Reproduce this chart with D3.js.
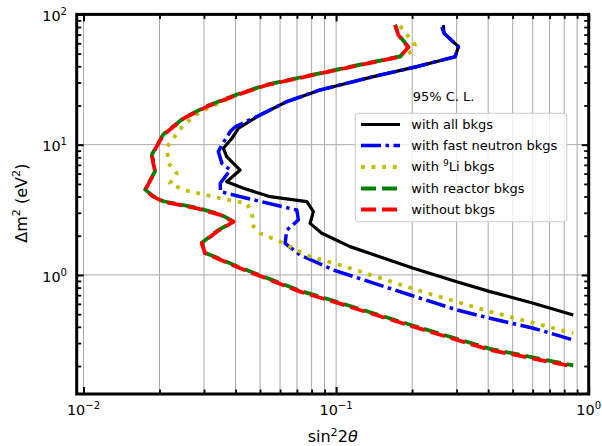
<!DOCTYPE html>
<html>
<head>
<meta charset="utf-8">
<script src="https://cdn.jsdelivr.net/npm/d3@7"></script>
<style>
  html, body { margin: 0; padding: 0; background: #fff; }
  svg { display: block; font-family: "DejaVu Sans", sans-serif; }
</style>
</head>
<body>
<svg id="chart" width="602" height="446"></svg>
<script>
// ---------------- data (sin^2 2theta, Δm^2 in eV^2) ----------------
const allSin2 = [0.2658, 0.2675, 0.305, 0.296, 0.2087, 0.1405, 0.0864, 0.0638, 0.0500, 0.0411, 0.0387, 0.0358, 0.0369, 0.0417, 0.0369, 0.0430, 0.0548, 0.0766, 0.0813, 0.0789, 0.0878, 0.1136, 0.2022, 0.3004, 0.4069, 0.6037, 0.869];
const allDm2  = [82.9, 71.6, 56.5, 47.3, 39.7, 33.3, 26.3, 21.4, 16.9, 13.4, 11.2, 9.38, 8.09, 6.39, 5.20, 4.63, 3.99, 3.65, 3.06, 2.49, 2.09, 1.65, 1.126, 0.888, 0.745, 0.607, 0.493];

const fastSin2 = [0.262, 0.2675, 0.305, 0.296, 0.2087, 0.1405, 0.0864, 0.0638, 0.0500, 0.0398, 0.0381, 0.0353, 0.0342, 0.0353, 0.0381, 0.0348, 0.0348, 0.0443, 0.0699, 0.0709, 0.0638, 0.0628, 0.0720, 0.0976, 0.1963, 0.3004, 0.4069, 0.6037, 0.869];
const fastDm2  = [80.0, 71.6, 56.5, 47.3, 39.7, 33.3, 26.3, 21.4, 16.9, 13.7, 12.6, 9.95, 8.84, 7.20, 6.39, 5.06, 4.36, 3.88, 3.15, 2.64, 2.21, 1.75, 1.424, 1.092, 0.702, 0.539, 0.465, 0.390, 0.317];

const liSin2 = [0.1792, 0.2054, 0.1993, 0.1792, 0.1245, 0.0813, 0.0532, 0.0405, 0.0290, 0.0249, 0.0214, 0.0217, 0.0234, 0.0220, 0.0249, 0.0348, 0.0443, 0.0464, 0.0471, 0.0500, 0.0600, 0.0789, 0.1037, 0.2087, 0.4069, 0.869];
const liDm2  = [81.5, 58.2, 51.7, 47.3, 40.9, 34.3, 28.7, 24.1, 17.9, 14.2, 9.65, 7.20, 6.03, 5.06, 4.49, 3.88, 3.55, 2.98, 2.35, 2.09, 1.80, 1.382, 1.193, 0.767, 0.523, 0.357];

const reactorSin2 = [0.1712, 0.1764, 0.1932, 0.1792, 0.1245, 0.0813, 0.0532, 0.0405, 0.0308, 0.0249, 0.0207, 0.01865, 0.0189, 0.0192, 0.01754, 0.0189, 0.0207, 0.0281, 0.0348, 0.0392, 0.0337, 0.0294, 0.0303, 0.0337, 0.0417, 0.0720, 0.0976, 0.2022, 0.4069, 0.869];
const reactorDm2  = [83.5, 70.0, 56.3, 47.6, 41.2, 34.5, 28.9, 24.3, 19.8, 16.0, 12.0, 8.40, 7.25, 6.25, 4.52, 4.02, 3.68, 3.28, 2.92, 2.58, 2.17, 1.77, 1.48, 1.36, 1.14, 0.756, 0.634, 0.408, 0.271, 0.202];

const noBkgSin2 = [0.1712, 0.1764, 0.1932, 0.1792, 0.1245, 0.0813, 0.0532, 0.0405, 0.0308, 0.0249, 0.0207, 0.01865, 0.0189, 0.0192, 0.01754, 0.0189, 0.0207, 0.0281, 0.0348, 0.0392, 0.0337, 0.0294, 0.0303, 0.0337, 0.0417, 0.0720, 0.0976, 0.2022, 0.4069, 0.869];
const noBkgDm2  = [82.9, 69.5, 55.9, 47.3, 40.9, 34.3, 28.7, 24.1, 19.6, 15.9, 11.9, 8.34, 7.20, 6.21, 4.49, 3.99, 3.65, 3.25, 2.89, 2.56, 2.15, 1.75, 1.467, 1.344, 1.126, 0.745, 0.624, 0.401, 0.266, 0.198];

const legendLabels = ["with all bkgs", "with fast neutron bkgs", ["with ", "9", "Li bkgs"], "with reactor bkgs", "without bkgs"];

const xMajorTicks = [0.01, 0.1, 1];
const xMinorTicks = [0.02, 0.03, 0.04, 0.05, 0.06, 0.07, 0.08, 0.09, 0.2, 0.3, 0.4, 0.5, 0.6, 0.7, 0.8, 0.9];
const xTickExps = ["\u22122", "\u22121", "0"];
const yMajorTicks = [1, 10, 100];
const yMinorTicks = [0.2, 0.3, 0.4, 0.5, 0.6, 0.7, 0.8, 0.9, 2, 3, 4, 5, 6, 7, 8, 9, 20, 30, 40, 50, 60, 70, 80, 90];
const yTickExps = ["0", "1", "2"];

const xDomain = [0.0094, 1.0];
const yDomain = [0.122, 100];

// ---------------- layout ----------------
const svg = d3.select("#chart");
const L = 76.7, R = 588.7, T = 14.4, B = 394;

const x = d3.scaleLog().domain(xDomain).range([L, R]);
const y = d3.scaleLog().domain(yDomain).range([B, T]);

svg.append("rect").attr("width", 602).attr("height", 446).attr("fill", "#fff");

svg.append("clipPath").attr("id", "clip")
  .append("rect").attr("x", L).attr("y", T).attr("width", R - L).attr("height", B - T);

// grid
const grid = svg.append("g").attr("clip-path", "url(#clip)");
grid.selectAll("line.gx").data(xMajorTicks.concat(xMinorTicks)).join("line")
  .attr("x1", d => x(d)).attr("x2", d => x(d)).attr("y1", T).attr("y2", B)
  .attr("stroke", "#a8a8a8").attr("stroke-width", 1);
grid.selectAll("line.gy").data(yMajorTicks).join("line")
  .attr("y1", d => y(d)).attr("y2", d => y(d)).attr("x1", L).attr("x2", R)
  .attr("stroke", "#a8a8a8").attr("stroke-width", 1);

// series
const series = [
  {sx: allSin2, sy: allDm2, color: "#000000", w: 3.2, dash: null, off: 0},
  {sx: fastSin2, sy: fastDm2, color: "#0000ff", w: 3.5, dash: "20,4.5,3.5,4.5", off: 0},
  {sx: liSin2, sy: liDm2, color: "#bfbf00", w: 3.8, dash: "3.8,6.8", off: 0},
  {sx: reactorSin2, sy: reactorDm2, color: "#008000", w: 3.8, dash: "15,6", off: 7},
  {sx: noBkgSin2, sy: noBkgDm2, color: "#ff0000", w: 3.8, dash: "15,6", off: 0}
];

const line = d3.line().x(d => x(d[0])).y(d => y(d[1]));
const plot = svg.append("g").attr("clip-path", "url(#clip)");
series.forEach(s => {
  const pts = s.sx.map((v, i) => [v, s.sy[i]]);
  plot.append("path").datum(pts)
    .attr("d", line)
    .attr("fill", "none")
    .attr("stroke", s.color)
    .attr("stroke-width", s.w)
    .attr("stroke-linejoin", "round")
    .attr("stroke-dasharray", s.dash)
    .attr("stroke-dashoffset", s.off);
});

// ticks (inward, all four sides)
function ticks(axisFn, scale, values, size, width, transform) {
  const g = svg.append("g").attr("transform", transform)
    .call(axisFn(scale).tickValues(values).tickSize(-size).tickFormat(""));
  g.select(".domain").remove();
  g.selectAll(".tick line").attr("stroke", "#000").attr("stroke-width", width);
}
ticks(d3.axisBottom, x, xMajorTicks, 7, 2, `translate(0,${B})`);
ticks(d3.axisBottom, x, xMinorTicks, 4.5, 1.8, `translate(0,${B})`);
ticks(d3.axisTop, x, xMajorTicks, 7, 2, `translate(0,${T})`);
ticks(d3.axisTop, x, xMinorTicks, 4.5, 1.8, `translate(0,${T})`);
ticks(d3.axisLeft, y, yMajorTicks, 7, 2, `translate(${L},0)`);
ticks(d3.axisLeft, y, yMinorTicks, 4.5, 1.8, `translate(${L},0)`);
ticks(d3.axisRight, y, yMajorTicks, 7, 2, `translate(${R},0)`);
ticks(d3.axisRight, y, yMinorTicks, 4.5, 1.8, `translate(${R},0)`);

// spines
svg.append("rect").attr("x", L).attr("y", T).attr("width", R - L).attr("height", B - T)
  .attr("fill", "none").attr("stroke", "#000").attr("stroke-width", 3);

// tick labels
xMajorTicks.forEach((v, i) => {
  const t = svg.append("text").attr("x", x(v)).attr("y", 415)
    .attr("text-anchor", "middle").attr("font-size", 14.4).attr("fill", "#000");
  t.append("tspan").text("10");
  t.append("tspan").attr("dy", -6).attr("font-size", 10.1).text(xTickExps[i]);
});
yMajorTicks.forEach((v, i) => {
  const t = svg.append("text").attr("x", 67).attr("y", y(v) + 6.8)
    .attr("text-anchor", "end").attr("font-size", 14.4).attr("fill", "#000");
  t.append("tspan").text("10");
  t.append("tspan").attr("dy", -6).attr("font-size", 10.1).text(yTickExps[i]);
});

// axis labels
const xl = svg.append("text").attr("x", (L + R) / 2).attr("y", 442)
  .attr("text-anchor", "middle").attr("font-size", 16).attr("fill", "#000");
xl.append("tspan").text("sin");
xl.append("tspan").attr("dy", -6.5).attr("font-size", 11.2).text("2");
xl.append("tspan").attr("dy", 6.5).text("2");
xl.append("tspan").attr("font-style", "italic").text("\u03b8");

const yl = svg.append("text").attr("transform", `translate(26.5,${(T + B) / 2 - 1}) rotate(-90)`)
  .attr("text-anchor", "middle").attr("font-size", 16).attr("fill", "#000");
yl.append("tspan").text("\u0394m");
yl.append("tspan").attr("dy", -6.5).attr("font-size", 11.2).text("2");
yl.append("tspan").attr("dy", 6.5).text(" (eV");
yl.append("tspan").attr("dy", -6.5).attr("font-size", 11.2).text("2");
yl.append("tspan").attr("dy", 6.5).text(")");

// annotation
svg.append("text").attr("x", 412.7).attr("y", 100.5).attr("font-size", 13).attr("fill", "#000")
  .text("95% C. L.");

// legend
const lg = svg.append("g");
lg.append("rect").attr("x", 355.3).attr("y", 113.3).attr("width", 211.5).attr("height", 108.5)
  .attr("rx", 3).attr("fill", "#fff").attr("fill-opacity", 0.8)
  .attr("stroke", "#cccccc").attr("stroke-width", 1);
const rowY = [124.5, 145.5, 167, 188.5, 209.5];
series.forEach((s, i) => {
  lg.append("line").attr("x1", 361).attr("x2", 400).attr("y1", rowY[i]).attr("y2", rowY[i])
    .attr("stroke", s.color).attr("stroke-width", s.w)
    .attr("stroke-dasharray", s.dash);
  const t = lg.append("text").attr("x", 411.3).attr("y", rowY[i] + 4.3)
    .attr("font-size", 13).attr("fill", "#000");
  const lab = legendLabels[i];
  if (Array.isArray(lab)) {
    t.append("tspan").text(lab[0]);
    t.append("tspan").attr("dy", -5.5).attr("font-size", 9.1).text(lab[1]);
    t.append("tspan").attr("dy", 5.5).text(lab[2]);
  } else {
    t.text(lab);
  }
});
</script>
</body>
</html>
